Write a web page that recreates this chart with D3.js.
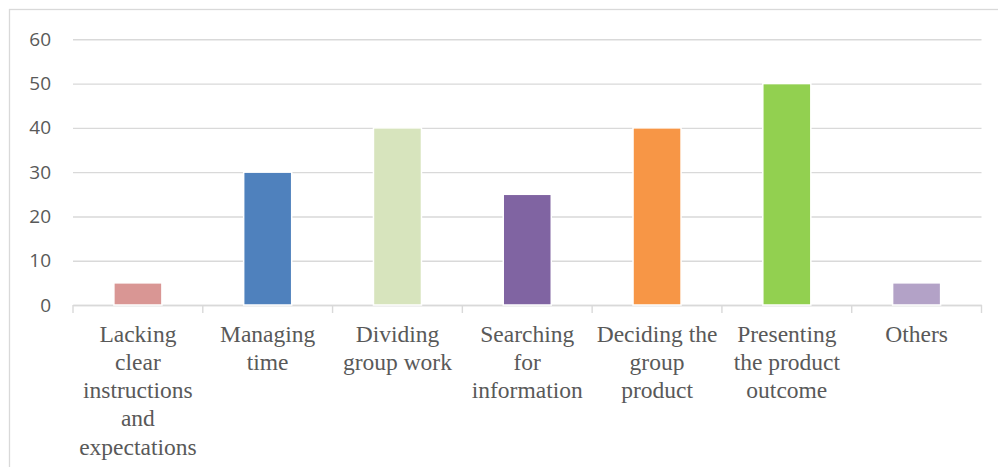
<!DOCTYPE html>
<html>
<head>
<meta charset="utf-8">
<script src="https://cdn.jsdelivr.net/npm/d3@7"></script>
<style>
  html, body { margin: 0; padding: 0; background: #ffffff; }
  svg { display: block; }
</style>
</head>
<body>
<svg id="chart" width="998" height="467"></svg>
<script>
// Reported difficulties in group work
const categories = [
  "Lacking clear instructions and expectations",
  "Managing time",
  "Dividing group work",
  "Searching for information",
  "Deciding the group product",
  "Presenting the product outcome",
  "Others"
];
const values = [5, 30, 40, 25, 40, 50, 5];
const colors = ["#D99694", "#4F81BD", "#D7E4BD", "#8064A2", "#F79646", "#92D050", "#B3A2C7"];
const yTicks = [0, 10, 20, 30, 40, 50, 60];

const svg = d3.select("#chart");
const plot = { left: 73, right: 981.5, top: 39.3, bottom: 305 };
const gridColor = "#d9d9d9";
const textColor = "#595959";
const serif = '"Liberation Serif", Tinos, "Times New Roman", serif';
const sans = '"Open Sans", "Liberation Sans", sans-serif';

// outer chart frame
svg.append("rect")
  .attr("x", 9.5).attr("y", 9.5)
  .attr("width", 1000).attr("height", 500)
  .attr("fill", "none").attr("stroke", gridColor).attr("stroke-width", 1.3);

const x = d3.scaleBand().domain(categories).range([plot.left, plot.right]).padding(0);
const y = d3.scaleLinear().domain([0, 60]).range([plot.bottom, plot.top]);

// horizontal gridlines with value labels
const yAxis = d3.axisLeft(y).tickValues(yTicks).tickSize(-(plot.right - plot.left)).tickPadding(22);
const gy = svg.append("g").attr("transform", `translate(${plot.left},0)`).call(yAxis);
gy.select(".domain").remove();
gy.selectAll(".tick line").attr("stroke", gridColor).attr("stroke-width", 1.4);
gy.selectAll(".tick text")
  .attr("fill", textColor)
  .style("font-family", sans)
  .style("font-size", "19px");

// category axis along the bottom
const xAxis = d3.axisBottom(x).tickSize(0).tickFormat("");
const gx = svg.append("g").attr("transform", `translate(0,${plot.bottom})`).call(xAxis);
gx.select(".domain").attr("stroke", gridColor).attr("stroke-width", 1.4);
gx.selectAll(".tick").remove();

// tick marks on category boundaries
const bounds = categories.map(c => x(c)).concat([x(categories[categories.length - 1]) + x.bandwidth()]);
svg.append("g").selectAll("line").data(bounds).join("line")
  .attr("x1", d => d).attr("x2", d => d)
  .attr("y1", plot.bottom).attr("y2", plot.bottom + 8)
  .attr("stroke", gridColor).attr("stroke-width", 1.4);

// bars
const barW = x.bandwidth() * 0.37;
svg.append("g").selectAll("rect").data(values).join("rect")
  .attr("x", (d, i) => x(categories[i]) + (x.bandwidth() - barW) / 2)
  .attr("width", barW)
  .attr("y", d => y(d))
  .attr("height", d => y(0) - y(d))
  .attr("fill", (d, i) => colors[i])
  .attr("stroke", "#ffffff")
  .attr("stroke-width", 1.5);

// wrapped category labels
const labelG = svg.append("g");

const maxW = 125;
const lineH = 28.2;
const baseY = 341.7;
categories.forEach(cat => {
  const cx = x(cat) + x.bandwidth() / 2;
  const t = labelG.append("text")
    .attr("x", cx).attr("y", baseY)
    .attr("text-anchor", "middle")
    .attr("fill", textColor)
    .style("font-family", serif)
    .style("font-size", "23.5px");
  const words = cat.split(" ");
  let line = [];
  let lineNo = 0;
  let tspan = t.append("tspan").attr("x", cx).attr("y", baseY);
  words.forEach(w => {
    line.push(w);
    tspan.text(line.join(" "));
    if (tspan.node().getComputedTextLength() > maxW && line.length > 1) {
      line.pop();
      tspan.text(line.join(" "));
      line = [w];
      lineNo += 1;
      tspan = t.append("tspan").attr("x", cx).attr("y", baseY + lineNo * lineH).text(w);
    }
  });
});
</script>
</body>
</html>
